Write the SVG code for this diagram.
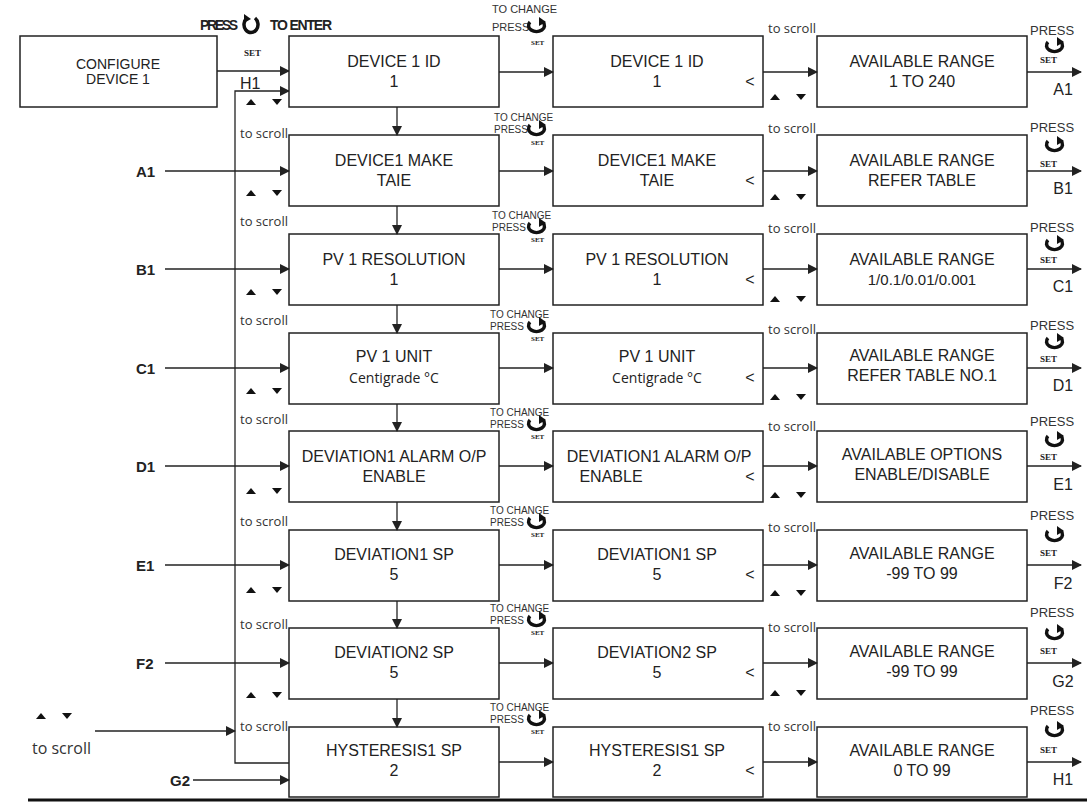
<svg xmlns="http://www.w3.org/2000/svg" xmlns:xlink="http://www.w3.org/1999/xlink" width="1087" height="803" viewBox="0 0 1087 803">
<style>
.b{fill:#fff;stroke:#222;stroke-width:1.5}
.t{font-family:"Liberation Sans",Arial,sans-serif;font-size:16px;fill:#222;text-anchor:middle}
.s{font-family:"Open Sans","DejaVu Sans",sans-serif;font-size:13px;fill:#333}
.sm{font-family:"Liberation Sans",Arial,sans-serif;font-size:11px;fill:#333}
.lb{font-family:"Liberation Sans",Arial,sans-serif;font-size:15px;font-weight:bold;fill:#222}
.set{font-family:"Liberation Serif",serif;font-size:9px;font-weight:bold;fill:#222}
.c{stroke:#222;stroke-width:1.3;fill:none}
.tri{fill:#111}
</style>
<defs>
<marker id="a" markerWidth="10" markerHeight="10" refX="9" refY="5" orient="auto" markerUnits="userSpaceOnUse"><path d="M0,0 L10,5 L0,10 z" fill="#222"/></marker>
<g id="rot"><path d="M-7,-4 A8,6 0 1 0 6,-4" fill="none" stroke="#111" stroke-width="3.5"/><path d="M2,-9 L9,-4 L2,0 z" fill="#111"/></g>
<g id="ud"><path d="M-5,4 L0,-2 L5,4 z" class="tri"/><path d="M21,-2 L31,-2 L26,4 z" class="tri"/></g>
</defs>
<g id="header">
<text x="200" y="30" style="font-family:'Liberation Sans Narrow','Liberation Sans',sans-serif;font-size:14px;font-weight:bold;fill:#222" textLength="38">PRESS</text>
<path d="M247,18 A7,8 0 1 0 255,18" fill="none" stroke="#111" stroke-width="3.5"/><path d="M244,14 L251,19 L244,23 z" fill="#111"/>
<text x="270" y="30" style="font-family:'Liberation Sans Narrow','Liberation Sans',sans-serif;font-size:14px;font-weight:bold;fill:#222" textLength="62">TO ENTER</text>
<text x="244" y="56" class="set">SET</text>
</g>
<g id="configure"><rect x="20" y="36" width="197" height="71" class="b"/><text x="118" y="69" class="t" style="font-size:14px">CONFIGURE</text><text x="118" y="84" class="t" style="font-size:14px">DEVICE 1</text></g>
<g id="connectors">
<path d="M217,71 H289" class="c" marker-end="url(#a)"/>
<path d="M289,763 H235 V91 H289" class="c" marker-end="url(#a)"/>
<path d="M95,731 H235" class="c" marker-end="url(#a)"/>
<path d="M28,800 H1087" stroke="#111" stroke-width="3"/>
</g>
<text x="240" y="89" class="t" style="text-anchor:start">H1</text>
<g id="scrollLeft"><use xlink:href="#ud" x="41" y="715"/><text x="32" y="754" class="s" style="font-size:16px">to scroll</text></g>

<g id="row1"><rect x="289" y="36" width="210" height="71" class="b"/><text x="394" y="67" class="t">DEVICE 1 ID</text><text x="394" y="87" class="t">1</text>
<rect x="553" y="36" width="210" height="71" class="b"/><text x="657" y="67" class="t">DEVICE 1 ID</text><text x="657" y="87" class="t">1</text><text x="750" y="87" class="t">&lt;</text>
<rect x="817" y="36" width="210" height="71" class="b"/><text x="922" y="67" class="t">AVAILABLE RANGE</text><text x="922" y="87" class="t">1 TO 240</text>
<path d="M499,72 H553" class="c" marker-end="url(#a)"/><path d="M763,72 H817" class="c" marker-end="url(#a)"/><path d="M1027,72 H1081" class="c" marker-end="url(#a)"/>
<text x="1063" y="95" class="t">A1</text><use xlink:href="#ud" x="251" y="101"/><use xlink:href="#ud" x="775" y="96"/>
<text x="768" y="33" class="s">to scroll</text><text x="1030" y="35" class="sm" style="font-size:13px">PRESS</text><use xlink:href="#rot" x="1055" y="46"/><text x="1040" y="63" class="set">SET</text>
<text x="492" y="13" class="sm">TO CHANGE</text><text x="492" y="31" class="sm">PRESS</text><use xlink:href="#rot" x="537" y="26"/><text x="531" y="45" class="set" style="font-size:7px">SET</text></g>

<g id="row2"><rect x="289" y="135" width="210" height="71" class="b"/><text x="394" y="166" class="t">DEVICE1 MAKE</text><text x="394" y="186" class="t">TAIE</text>
<rect x="553" y="135" width="210" height="71" class="b"/><text x="657" y="166" class="t">DEVICE1 MAKE</text><text x="657" y="186" class="t">TAIE</text><text x="750" y="186" class="t">&lt;</text>
<rect x="817" y="135" width="210" height="71" class="b"/><text x="922" y="166" class="t">AVAILABLE RANGE</text><text x="922" y="186" class="t">REFER TABLE</text>
<path d="M499,171 H553" class="c" marker-end="url(#a)"/><path d="M763,171 H817" class="c" marker-end="url(#a)"/><path d="M1027,171 H1081" class="c" marker-end="url(#a)"/><path d="M397,107 V135" class="c" marker-end="url(#a)"/><path d="M165,171 H289" class="c" marker-end="url(#a)"/>
<text x="136" y="177" class="lb">A1</text><text x="1063" y="194" class="t">B1</text><use xlink:href="#ud" x="251" y="192"/><use xlink:href="#ud" x="775" y="196"/>
<text x="240" y="138" class="s">to scroll</text><text x="768" y="133" class="s">to scroll</text><text x="1030" y="132" class="sm" style="font-size:13px">PRESS</text><use xlink:href="#rot" x="1055" y="145"/><text x="1040" y="167" class="set">SET</text>
<text x="494" y="121" class="sm" style="font-size:10px">TO CHANGE</text><text x="494" y="133" class="sm" style="font-size:10px">PRESS</text><use xlink:href="#rot" x="537" y="129"/><text x="531" y="145" class="set" style="font-size:7px">SET</text></g>

<g id="row3"><rect x="289" y="234" width="210" height="71" class="b"/><text x="394" y="265" class="t">PV 1 RESOLUTION</text><text x="394" y="285" class="t">1</text>
<rect x="553" y="234" width="210" height="71" class="b"/><text x="657" y="265" class="t">PV 1 RESOLUTION</text><text x="657" y="285" class="t">1</text><text x="750" y="285" class="t">&lt;</text>
<rect x="817" y="234" width="210" height="71" class="b"/><text x="922" y="265" class="t">AVAILABLE RANGE</text><text x="922" y="285" class="t" style="font-size:15px">1/0.1/0.01/0.001</text>
<path d="M499,269 H553" class="c" marker-end="url(#a)"/><path d="M763,269 H817" class="c" marker-end="url(#a)"/><path d="M1027,269 H1081" class="c" marker-end="url(#a)"/><path d="M397,206 V234" class="c" marker-end="url(#a)"/><path d="M165,269 H289" class="c" marker-end="url(#a)"/>
<text x="136" y="275" class="lb">B1</text><text x="1063" y="292" class="t">C1</text><use xlink:href="#ud" x="251" y="291"/><use xlink:href="#ud" x="775" y="298"/>
<text x="240" y="226" class="s">to scroll</text><text x="768" y="233" class="s">to scroll</text><text x="1030" y="232" class="sm" style="font-size:13px">PRESS</text><use xlink:href="#rot" x="1055" y="244"/><text x="1040" y="263" class="set">SET</text>
<text x="492" y="219" class="sm" style="font-size:10px">TO CHANGE</text><text x="492" y="231" class="sm" style="font-size:10px">PRESS</text><use xlink:href="#rot" x="537" y="227"/><text x="531" y="242" class="set" style="font-size:7px">SET</text></g>

<g id="row4"><rect x="289" y="333" width="210" height="71" class="b"/><text x="394" y="362" class="t">PV 1 UNIT</text><text x="394" y="383" class="t" style="font-family:'Open Sans',sans-serif;font-size:14px">Centigrade °C</text>
<rect x="553" y="333" width="210" height="71" class="b"/><text x="657" y="362" class="t">PV 1 UNIT</text><text x="657" y="383" class="t" style="font-family:'Open Sans',sans-serif;font-size:14px">Centigrade °C</text><text x="750" y="383" class="t">&lt;</text>
<rect x="817" y="333" width="210" height="71" class="b"/><text x="922" y="361" class="t">AVAILABLE RANGE</text><text x="922" y="381" class="t">REFER TABLE NO.1</text>
<path d="M499,368 H553" class="c" marker-end="url(#a)"/><path d="M763,368 H817" class="c" marker-end="url(#a)"/><path d="M1027,368 H1081" class="c" marker-end="url(#a)"/><path d="M397,305 V333" class="c" marker-end="url(#a)"/><path d="M165,368 H289" class="c" marker-end="url(#a)"/>
<text x="136" y="374" class="lb">C1</text><text x="1063" y="391" class="t">D1</text><use xlink:href="#ud" x="251" y="390"/><use xlink:href="#ud" x="775" y="396"/>
<text x="240" y="325" class="s">to scroll</text><text x="768" y="334" class="s">to scroll</text><text x="1030" y="330" class="sm" style="font-size:13px">PRESS</text><use xlink:href="#rot" x="1055" y="342"/><text x="1040" y="362" class="set">SET</text>
<text x="490" y="318" class="sm" style="font-size:10px">TO CHANGE</text><text x="490" y="330" class="sm" style="font-size:10px">PRESS</text><use xlink:href="#rot" x="537" y="326"/><text x="531" y="341" class="set" style="font-size:7px">SET</text></g>

<g id="row5"><rect x="289" y="431" width="210" height="71" class="b"/><text x="394" y="462" class="t">DEVIATION1 ALARM O/P</text><text x="394" y="482" class="t">ENABLE</text>
<rect x="553" y="431" width="210" height="71" class="b"/><text x="659" y="462" class="t">DEVIATION1 ALARM O/P</text><text x="611" y="482" class="t">ENABLE</text><text x="750" y="482" class="t">&lt;</text>
<rect x="817" y="431" width="210" height="71" class="b"/><text x="922" y="460" class="t">AVAILABLE OPTIONS</text><text x="922" y="480" class="t">ENABLE/DISABLE</text>
<path d="M499,466 H553" class="c" marker-end="url(#a)"/><path d="M763,466 H817" class="c" marker-end="url(#a)"/><path d="M1027,466 H1081" class="c" marker-end="url(#a)"/><path d="M397,404 V431" class="c" marker-end="url(#a)"/><path d="M165,466 H289" class="c" marker-end="url(#a)"/>
<text x="136" y="472" class="lb">D1</text><text x="1063" y="490" class="t">E1</text><use xlink:href="#ud" x="251" y="490"/><use xlink:href="#ud" x="775" y="494"/>
<text x="240" y="424" class="s">to scroll</text><text x="768" y="431" class="s">to scroll</text><text x="1030" y="426" class="sm" style="font-size:13px">PRESS</text><use xlink:href="#rot" x="1055" y="440"/><text x="1040" y="460" class="set">SET</text>
<text x="490" y="416" class="sm" style="font-size:10px">TO CHANGE</text><text x="490" y="428" class="sm" style="font-size:10px">PRESS</text><use xlink:href="#rot" x="537" y="424"/><text x="531" y="439" class="set" style="font-size:7px">SET</text></g>

<g id="row6"><rect x="289" y="530" width="210" height="71" class="b"/><text x="394" y="560" class="t">DEVIATION1 SP</text><text x="394" y="580" class="t">5</text>
<rect x="553" y="530" width="210" height="71" class="b"/><text x="657" y="560" class="t">DEVIATION1 SP</text><text x="657" y="580" class="t">5</text><text x="750" y="580" class="t">&lt;</text>
<rect x="817" y="530" width="210" height="71" class="b"/><text x="922" y="559" class="t">AVAILABLE RANGE</text><text x="922" y="579" class="t">-99 TO 99</text>
<path d="M499,565 H553" class="c" marker-end="url(#a)"/><path d="M763,565 H817" class="c" marker-end="url(#a)"/><path d="M1027,565 H1081" class="c" marker-end="url(#a)"/><path d="M397,502 V530" class="c" marker-end="url(#a)"/><path d="M165,565 H289" class="c" marker-end="url(#a)"/>
<text x="136" y="571" class="lb">E1</text><text x="1063" y="589" class="t">F2</text><use xlink:href="#ud" x="251" y="589"/><use xlink:href="#ud" x="775" y="592"/>
<text x="240" y="526" class="s">to scroll</text><text x="768" y="532" class="s">to scroll</text><text x="1030" y="520" class="sm" style="font-size:13px">PRESS</text><use xlink:href="#rot" x="1055" y="535"/><text x="1040" y="556" class="set">SET</text>
<text x="490" y="514" class="sm" style="font-size:10px">TO CHANGE</text><text x="490" y="526" class="sm" style="font-size:10px">PRESS</text><use xlink:href="#rot" x="537" y="522"/><text x="531" y="537" class="set" style="font-size:7px">SET</text></g>

<g id="row7"><rect x="289" y="628" width="210" height="71" class="b"/><text x="394" y="658" class="t">DEVIATION2 SP</text><text x="394" y="678" class="t">5</text>
<rect x="553" y="628" width="210" height="71" class="b"/><text x="657" y="658" class="t">DEVIATION2 SP</text><text x="657" y="678" class="t">5</text><text x="750" y="678" class="t">&lt;</text>
<rect x="817" y="628" width="210" height="71" class="b"/><text x="922" y="657" class="t">AVAILABLE RANGE</text><text x="922" y="677" class="t">-99 TO 99</text>
<path d="M499,663 H553" class="c" marker-end="url(#a)"/><path d="M763,663 H817" class="c" marker-end="url(#a)"/><path d="M1027,663 H1081" class="c" marker-end="url(#a)"/><path d="M397,601 V628" class="c" marker-end="url(#a)"/><path d="M165,663 H289" class="c" marker-end="url(#a)"/>
<text x="136" y="669" class="lb">F2</text><text x="1063" y="687" class="t">G2</text><use xlink:href="#ud" x="251" y="694"/><use xlink:href="#ud" x="775" y="692"/>
<text x="240" y="629" class="s">to scroll</text><text x="768" y="632" class="s">to scroll</text><text x="1030" y="617" class="sm" style="font-size:13px">PRESS</text><use xlink:href="#rot" x="1055" y="633"/><text x="1040" y="654" class="set">SET</text>
<text x="490" y="612" class="sm" style="font-size:10px">TO CHANGE</text><text x="490" y="624" class="sm" style="font-size:10px">PRESS</text><use xlink:href="#rot" x="537" y="620"/><text x="531" y="635" class="set" style="font-size:7px">SET</text></g>

<g id="row8"><rect x="289" y="727" width="210" height="70" class="b"/><text x="394" y="756" class="t">HYSTERESIS1 SP</text><text x="394" y="776" class="t">2</text>
<rect x="553" y="727" width="210" height="70" class="b"/><text x="657" y="756" class="t">HYSTERESIS1 SP</text><text x="657" y="776" class="t">2</text><text x="750" y="776" class="t">&lt;</text>
<rect x="817" y="727" width="210" height="70" class="b"/><text x="922" y="756" class="t">AVAILABLE RANGE</text><text x="922" y="776" class="t">0 TO 99</text>
<path d="M499,762 H553" class="c" marker-end="url(#a)"/><path d="M763,762 H817" class="c" marker-end="url(#a)"/><path d="M1027,762 H1081" class="c" marker-end="url(#a)"/><path d="M397,699 V727" class="c" marker-end="url(#a)"/><path d="M193,780 H289" class="c" marker-end="url(#a)"/>
<text x="170" y="786" class="lb">G2</text><text x="1063" y="785" class="t">H1</text>
<text x="240" y="731" class="s">to scroll</text><text x="768" y="731" class="s">to scroll</text><text x="1030" y="715" class="sm" style="font-size:13px">PRESS</text><use xlink:href="#rot" x="1055" y="730"/><text x="1040" y="753" class="set">SET</text>
<text x="490" y="711" class="sm" style="font-size:10px">TO CHANGE</text><text x="490" y="723" class="sm" style="font-size:10px">PRESS</text><use xlink:href="#rot" x="537" y="719"/><text x="531" y="734" class="set" style="font-size:7px">SET</text></g>
</svg>
